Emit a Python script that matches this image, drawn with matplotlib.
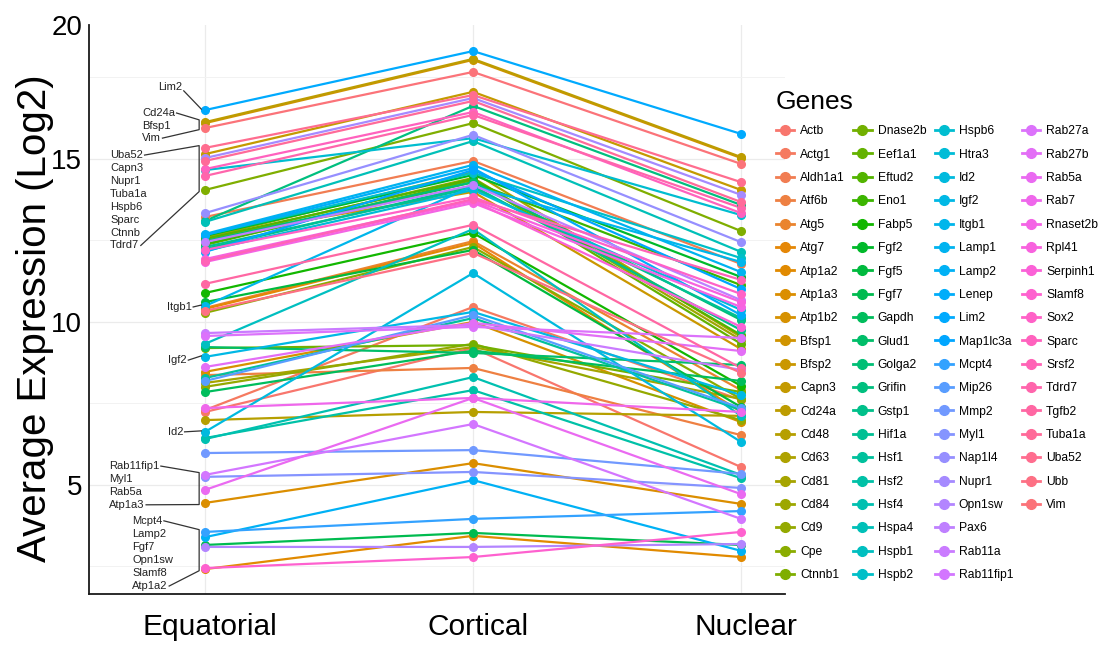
import numpy as np
import matplotlib
matplotlib.use("Agg")
import matplotlib.pyplot as plt
from matplotlib.lines import Line2D
from matplotlib import transforms

plt.rcParams["font.family"] = ["Liberation Sans", "DejaVu Sans"]

# ---- data -------------------------------------------------------------
regions = ["Equatorial", "Cortical", "Nuclear"]

genes = [
    "Actb", "Actg1", "Aldh1a1", "Atf6b", "Atg5", "Atg7", "Atp1a2", "Atp1a3",
    "Atp1b2", "Bfsp1", "Bfsp2", "Capn3", "Cd24a", "Cd48", "Cd63", "Cd81",
    "Cd84", "Cd9", "Cpe", "Ctnnb1",
    "Dnase2b", "Eef1a1", "Eftud2", "Eno1", "Fabp5", "Fgf2", "Fgf5", "Fgf7",
    "Gapdh", "Glud1", "Golga2", "Grifin", "Gstp1", "Hif1a", "Hsf1", "Hsf2",
    "Hsf4", "Hspa4", "Hspb1", "Hspb2",
    "Hspb6", "Htra3", "Id2", "Igf2", "Itgb1", "Lamp1", "Lamp2", "Lenep",
    "Lim2", "Map1lc3a", "Mcpt4", "Mip26", "Mmp2", "Myl1", "Nap1l4", "Nupr1",
    "Opn1sw", "Pax6", "Rab11a", "Rab11fip1",
    "Rab27a", "Rab27b", "Rab5a", "Rab7", "Rnaset2b", "Rpl41", "Serpinh1",
    "Slamf8", "Sox2", "Sparc", "Srsf2", "Tdrd7", "Tgfb2", "Tuba1a", "Uba52",
    "Ubb", "Vim",
]

equatorial = [
    7.24, 7.30, 13.22, 8.37, 10.43, 10.40, 2.42, 4.45,
    8.47, 16.10, 12.61, 15.15, 16.13, 6.99, 12.58, 8.13,
    12.52, 8.01, 10.28, 14.05,
    9.20, 12.36, 12.55, 12.39, 10.89, 12.64, 10.61, 3.16,
    7.85, 9.23, 12.48, 13.10, 12.24, 12.30, 8.28, 6.44,
    6.41, 13.07, 9.33, 12.67,
    14.66, 12.18, 6.63, 8.93, 10.49, 12.70, 3.40, 12.67,
    16.50, 12.15, 3.56, 8.19, 5.98, 5.25, 13.34, 15.03,
    3.10, 12.45, 9.66, 5.31,
    9.57, 8.62, 4.85, 7.36, 11.84, 11.93, 11.90,
    2.45, 12.21, 14.69, 11.87, 14.48, 11.17, 14.94, 15.34,
    10.34, 15.95,
]

cortical = [
    9.20, 10.46, 14.94, 8.59, 12.48, 12.42, 3.44, 5.67,
    10.00, 18.04, 13.99, 17.06, 18.07, 7.24, 14.60, 9.23,
    14.42, 9.33, 12.30, 16.10,
    9.29, 14.36, 14.39, 14.29, 12.73, 14.51, 12.21, 3.53,
    9.12, 9.05, 14.29, 16.63, 14.17, 14.11, 10.12, 7.91,
    8.31, 15.55, 12.85, 14.57,
    15.64, 14.05, 11.50, 10.31, 14.17, 14.82, 5.15, 14.72,
    18.31, 14.66, 3.96, 10.21, 6.07, 5.40, 15.74, 16.87,
    3.10, 14.20, 9.91, 6.87,
    9.85, 9.97, 7.67, 7.67, 13.65, 13.74, 13.71,
    2.79, 13.83, 16.44, 13.77, 16.35, 12.98, 16.78, 16.96,
    12.12, 17.67,
]

nuclear = [
    5.55, 7.61, 11.78, 6.53, 7.91, 7.24, 2.79, 4.42,
    6.93, 15.03, 9.17, 14.05, 15.06, 7.12, 9.54, 7.64,
    9.45, 6.99, 7.64, 12.79,
    7.85, 9.33, 9.60, 11.13, 8.04, 11.38, 7.39, 3.16,
    8.19, 8.68, 10.06, 13.59, 9.75, 10.12, 7.30, 5.21,
    5.31, 12.15, 7.12, 11.96,
    13.28, 10.37, 6.32, 7.76, 11.84, 11.53, 2.98, 10.21,
    15.77, 11.01, 4.20, 7.36, 5.34, 4.91, 12.45, 13.90,
    3.19, 10.67, 8.53, 3.96,
    9.51, 9.11, 4.72, 7.24, 10.46, 10.61, 9.85,
    3.56, 10.86, 13.34, 11.29, 13.50, 8.59, 13.68, 14.29,
    8.44, 14.85,
]

# labelled genes on the left of the panel
single_labels = [("Lim2", "Lim2"), ("Itgb1", "Itgb1"), ("Igf2", "Igf2"), ("Id2", "Id2")]
group_labels = [
    (["Cd24a", "Bfsp1", "Vim"], ["Cd24a", "Bfsp1", "Vim"]),
    (["Uba52", "Capn3", "Nupr1", "Tuba1a", "Hspb6", "Sparc", "Ctnnb", "Tdrd7"],
     ["Uba52", "Capn3", "Nupr1", "Tuba1a", "Hspb6", "Sparc", "Ctnnb1", "Tdrd7"]),
    (["Rab11fip1", "Myl1", "Rab5a", "Atp1a3"], ["Rab11fip1", "Myl1", "Rab5a", "Atp1a3"]),
    (["Mcpt4", "Lamp2", "Fgf7", "Opn1sw", "Slamf8", "Atp1a2"],
     ["Mcpt4", "Lamp2", "Fgf7", "Opn1sw", "Slamf8", "Atp1a2"]),
]


# ---- ggplot-style hue palette -----------------------------------------
def hcl_hex(h, c=100.0, l=65.0):
    h = np.deg2rad(h)
    u, v = c * np.cos(h), c * np.sin(h)
    xn, yn, zn = 95.047, 100.0, 108.883
    un = 4 * xn / (xn + 15 * yn + 3 * zn)
    vn = 9 * yn / (xn + 15 * yn + 3 * zn)
    y = yn * ((l + 16) / 116) ** 3 if l > 8 else yn * l / 903.3
    up = u / (13 * l) + un
    vp = v / (13 * l) + vn
    x = 9.0 * y * up / (4 * vp)
    z = -x / 3 - 5 * y + 3 * y / vp
    x, y, z = x / 100, y / 100, z / 100
    r = 3.240479 * x - 1.537150 * y - 0.498535 * z
    g = -0.969256 * x + 1.875992 * y + 0.041556 * z
    b = 0.055648 * x - 0.204043 * y + 1.057311 * z

    def gam(t):
        t = 12.92 * t if t <= 0.0031308 else 1.055 * t ** (1 / 2.4) - 0.055
        return min(max(t, 0.0), 1.0)

    return (gam(r), gam(g), gam(b))


n = len(genes)
hues = np.linspace(15, 375, n + 1)[:-1]
colors = [hcl_hex(hh) for hh in hues]

# ---- figure -----------------------------------------------------------
W, H = 1103, 645
fig = plt.figure(figsize=(W / 100, H / 100), dpi=100)
ax = fig.add_axes([89 / W, 1 - 594 / H, (785 - 89) / W, (594 - 25) / H])

xs = np.arange(len(regions))
vals = np.column_stack([equatorial, cortical, nuclear])

for i in range(n):
    ax.plot(xs, vals[i], color=colors[i], lw=1.6, zorder=2, solid_capstyle="round")
for i in range(n):
    ax.plot(xs, vals[i], ls="none", marker="o", ms=5.5, color=colors[i], zorder=3)

ax.set_xlim(-0.433, 2.164)
ax.set_ylim(1.656, 19.11)

ax.set_xticks(xs)
ax.set_xticklabels(regions, fontsize=21.5)
ax.set_yticks([5, 10, 15])
ax.set_yticklabels(["5", "10", "15"], fontsize=20)
ax.set_yticks([2.5, 7.5, 12.5, 17.5], minor=True)
ax.tick_params(axis="both", which="both", length=0)
ax.tick_params(axis="x", pad=14)
ax.tick_params(axis="y", pad=5)
shift = transforms.ScaledTranslation(0.05, 0, fig.dpi_scale_trans)
for lab in ax.get_xticklabels():
    lab.set_transform(lab.get_transform() + shift)

ax.grid(True, which="major", color="#EBEBEB", lw=0.9, zorder=0)
ax.grid(True, which="minor", axis="y", color="#F2F2F2", lw=0.7, zorder=0)
ax.set_axisbelow(True)

for s in ["top", "right"]:
    ax.spines[s].set_visible(False)
for s in ["left", "bottom"]:
    ax.spines[s].set_color("#1a1a1a")
    ax.spines[s].set_linewidth(1.3)

# top tick label of the value axis
off = transforms.offset_copy(ax.transAxes, fig=fig, x=-5, y=-2, units="points")
ax.text(0, 1, "20", transform=off, ha="right", va="center", fontsize=20)

fig.text(35 / W, 1 - 318 / H, "Average Expression (Log2)", rotation=90,
         ha="center", va="center", fontsize=29)

# ---- left-hand gene annotations -----------------------------------------
eq = dict(zip(genes, equatorial))
lab_fs = 8
lab_col = "#222222"
line_kw = dict(color="#333333", lw=0.9, zorder=4)

single_pos = {"Lim2": (-0.085, 17.21), "Itgb1": (-0.050, 10.46),
              "Igf2": (-0.068, 8.83), "Id2": (-0.082, 6.63)}
single_texts = []
for text, g in single_labels:
    tx, ty = single_pos[text]
    t = ax.text(tx, ty, text, ha="right", va="center", fontsize=lab_fs, color=lab_col)
    single_texts.append((t, g))

group_pos = [(-0.235, 16.41, 0.385), (-0.354, 15.12, 0.396),
             (-0.358, 5.58, 0.396), (-0.272, 3.90, 0.40)]
group_texts = []
for (texts, gs), (gx, gy, step) in zip(group_labels, group_pos):
    objs = [ax.text(gx, gy - k * step, s, ha="left", va="center",
                    fontsize=lab_fs, color=lab_col) for k, s in enumerate(texts)]
    group_texts.append((objs, gs))

fig.canvas.draw()
inv = ax.transData.inverted()


def right_edge(t):
    bb = t.get_window_extent()
    x1, _ = inv.transform((bb.x1 + 1.5, 0))
    _, yc = inv.transform((0, (bb.y0 + bb.y1) / 2))
    return x1, yc


for t, g in single_texts:
    x1, yc = right_edge(t)
    if g == "Lim2":
        yc -= 0.12
    ax.plot([x1, -0.014], [yc, eq[g] + 0.03], **line_kw)

xb = -0.022
for objs, gs in group_texts:
    v = [eq[g] for g in gs]
    top, bot = max(v) + 0.07, min(v) - 0.05
    x_first, y_first = right_edge(objs[0])
    x_last, y_last = right_edge(objs[-1])
    ax.plot([x_first, xb, xb, x_last], [y_first, top, bot, y_last], **line_kw)

# ---- legend (20 rows per column, last column shorter) ---------------------
per_col = 20
handles = [Line2D([0], [0], color=c, lw=2.0, marker="o", ms=7) for c in colors]
labels = list(genes)
n_pad = per_col * 4 - n
handles += [Line2D([0], [0], color="none", lw=0, marker=None) for _ in range(n_pad)]
labels += [""] * n_pad
leg = fig.legend(handles, labels, ncol=4, loc="upper left",
                 bbox_to_anchor=(776 / W, 1 - 90 / H), frameon=False,
                 fontsize=8.7, title="Genes", title_fontsize=19,
                 handlelength=1.5, handletextpad=0.5, columnspacing=0.7,
                 labelspacing=0.94, borderaxespad=0, borderpad=0,
                 alignment="left")

fig.savefig("out.png", dpi=100)
